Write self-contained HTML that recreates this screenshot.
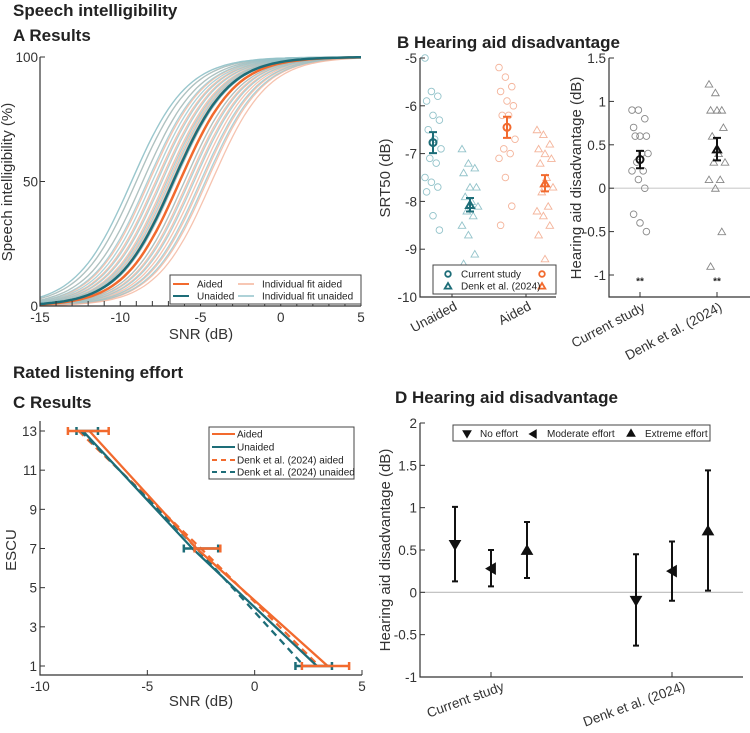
<!DOCTYPE html>
<html><head><meta charset="utf-8"><style>
body{margin:0;background:#fff}
svg{display:block;font-family:"Liberation Sans",Arial,sans-serif}
.t{font-weight:bold;font-size:17px;fill:#222}
.tk{font-size:13.5px;fill:#333}
.lb{font-size:15px;fill:#333}
.lg{font-size:10px;fill:#222}
</style></head><body>
<svg id="s" width="750" height="733" viewBox="0 0 750 733">
<text class="t" x="13" y="16">Speech intelligibility</text>
<text class="t" x="13" y="41">A Results</text>
<text class="t" x="397" y="48">B Hearing aid disadvantage</text>
<text class="t" x="13" y="378">Rated listening effort</text>
<text class="t" x="13" y="408">C Results</text>
<text class="t" x="395" y="403">D Hearing aid disadvantage</text>
</svg>
<script>
// ---- Panel A data
const aMainMid=[-6.3,-6.7]; // aided, unaided
const aSlope=0.58;
const aIndAided=[-9.0,-8.6,-8.2,-7.8,-7.5,-7.2,-7.0,-6.8,-6.6,-6.3,-6.0,-5.8,-5.5,-5.2,-4.9,-4.6,-4.3];
const aIndUnaided=[-9.3,-9.0,-8.6,-8.3,-8.0,-7.7,-7.4,-7.1,-6.9,-6.6,-6.3,-6.0,-5.7,-5.4,-5.0,-4.7];
const aXTicks=[-15,-10,-5,0,5];
const aYTicks=[0,50,100];
// ---- Panel B left
const bUnCur=[-5.0,-5.7,-5.8,-5.9,-6.2,-6.3,-6.5,-6.7,-6.9,-7.1,-7.2,-7.5,-7.6,-7.7,-7.8,-8.3,-8.6];
const bUnDenk=[-6.9,-7.2,-7.3,-7.4,-7.7,-7.7,-7.9,-8.0,-8.1,-8.2,-8.3,-8.5,-8.7,-9.1,-9.3];
const bAidCur=[-5.2,-5.4,-5.6,-5.7,-5.9,-6.0,-6.2,-6.2,-6.7,-6.9,-7.0,-7.1,-7.5,-8.1,-8.5];
const bAidDenk=[-6.5,-6.6,-6.8,-6.9,-7.0,-7.1,-7.2,-7.5,-7.7,-7.8,-8.1,-8.2,-8.3,-8.5,-8.7,-9.2];
const bMeans=[-6.77,-8.07,-6.45,-7.62];
const bErr=[0.22,0.14,0.22,0.17];
const bYTicks=[-5,-6,-7,-8,-9,-10];
// ---- Panel B right
const bdCur=[0.9,0.9,0.8,0.7,0.6,0.6,0.6,0.4,0.4,0.3,0.2,0.2,0.1,0,-0.3,-0.4,-0.5];
const bdDenk=[1.2,1.1,0.9,0.9,0.9,0.7,0.6,0.4,0.3,0.3,0.1,0.1,0,-0.5,-0.9];
const bdMeans=[0.33,0.45];
const bdErr=[0.1,0.13];
const bdYTicks=[1.5,1,0.5,0,-0.5,-1];
// ---- Panel C
const cLevels=[13,7,1];
const cAided=[-7.7,-2.7,3.4];
const cUnaided=[-8.0,-2.9,2.9];
const cDenkAided=[-8.2,-2.5,3.0];
const cDenkUnaided=[-8.1,-2.7,2.3];
const cErrAided=[[-8.7,-6.8],[-2.8,-1.6],[2.2,4.4]];
const cErrUnaided=[[-8.3,-7.3],[-3.3,-1.7],[1.9,3.6]];
const cXTicks=[-10,-5,0,5];
const cYTicks=[1,3,5,7,9,11,13];
// ---- Panel D
const dGroups=["Current study","Denk et al. (2024)"];
const dMean=[[0.56,0.28,0.5],[-0.1,0.25,0.73]];
const dLo=[[0.13,0.07,0.17],[-0.63,-0.1,0.02]];
const dHi=[[1.01,0.5,0.83],[0.45,0.6,1.44]];
const dYTicks=[2,1.5,1,0.5,0,-0.5,-1];

const S=document.getElementById('s');const NS='http://www.w3.org/2000/svg';
function mk(tag,at,txt,par){const e=document.createElementNS(NS,tag);for(const k in at)e.setAttribute(k,at[k]);if(txt!=null)e.textContent=txt;(par||S).appendChild(e);return e;}
const OR='#f26a2e',TE='#1d6d78',LOR='#f4b49b',LTE='#93c3ca';
function lin(d0,d1,r0,r1){return v=>r0+(v-d0)/(d1-d0)*(r1-r0);}

// ===== Panel A
{const x=lin(-15,5,40,361),y=lin(0,100,306,57);
const g=mk('g',{});
function curve(m,col,w,op,name){let p='';for(let v=-15;v<=5.001;v+=0.25){const q=100/(1+Math.exp(-aSlope*(v-m)));p+=(p?'L':'M')+x(v).toFixed(1)+','+y(q).toFixed(1);}
const e=mk('path',{d:p,fill:'none',stroke:col,'stroke-width':w,'stroke-opacity':op},null,g);}
aIndAided.forEach((m,i)=>{curve(m,LOR,1.3,0.8,'fit-aided-'+i);curve(aIndUnaided[i%aIndUnaided.length],LTE,1.3,0.75,'fit-unaided-'+i);});
curve(aMainMid[0],OR,2.5,1,'mean-aided-curve');curve(aMainMid[1],TE,2.5,1,'mean-unaided-curve');
mk('path',{d:'M40,57V306H361',fill:'none',stroke:'#333','stroke-width':1.2},null,g);
for(let v=-15;v<=5;v++)mk('line',{x1:x(v),x2:x(v),y1:306,y2:301,stroke:'#333'},null,g);
aXTicks.forEach(v=>{const e=mk('text',{x:x(v),y:322,'text-anchor':'middle',class:'tk'},String(v),g);});
aYTicks.forEach(v=>{mk('line',{x1:40,x2:45,y1:y(v),y2:y(v),stroke:'#333'},null,g);const e=mk('text',{x:38,y:y(v)+5,'text-anchor':'end',class:'tk'},String(v),g);});
let e=mk('text',{x:201,y:339,'text-anchor':'middle',class:'lb'},'SNR (dB)',g);
e=mk('text',{transform:'translate(12,182) rotate(-90)','text-anchor':'middle',class:'lb'},'Speech intelligibility (%)',g);
const L=mk('g',{},null,g);
mk('rect',{x:170,y:275,width:191,height:29,fill:'#fff',stroke:'#444'},null,L);
[[OR,2,'Aided',173,284],[TE,2,'Unaided',173,296],[LOR,1.5,'Individual fit aided',238,284],[LTE,1.5,'Individual fit  unaided',238,296]].forEach(a=>{mk('line',{x1:a[3],x2:a[3]+16,y1:a[4],y2:a[4],stroke:a[0],'stroke-width':a[1]},null,L);mk('text',{x:a[3]+24,y:a[4]+3.5,class:'lg'},a[2],L);});
}

function circ(g,cx,cy,col,r,w){return mk('circle',{cx:cx,cy:cy,r:r||3.3,fill:'none',stroke:col,'stroke-width':w||0.9},null,g);}
function tri(g,cx,cy,col,r,w,fill,dir){r=r||3.8;let p;
if(dir==='down')p=[[cx-r,cy-r*0.8],[cx+r,cy-r*0.8],[cx,cy+r*0.9]];else if(dir==='left')p=[[cx+r*0.8,cy-r],[cx+r*0.8,cy+r],[cx-r*0.9,cy]];else p=[[cx-r,cy+r*0.8],[cx+r,cy+r*0.8],[cx,cy-r*0.9]];
return mk('polygon',{points:p.map(q=>q.join(',')).join(' '),fill:fill||'none',stroke:col,'stroke-width':w||0.9},null,g);}
function jit(i){return ((i*37)%11-5)*1.6;}

// ===== Panel B left
{const y=lin(-5,-10,58,297);const g=mk('g',{});
const cx=[433,470,507,545];const sets=[bUnCur,bUnDenk,bAidCur,bAidDenk];const cols=[LTE,LTE,LOR,LOR];const dark=[TE,TE,OR,OR];
sets.forEach((arr,k)=>arr.forEach((v,i)=>{const e=(k%2===0)?circ(g,cx[k]+jit(i),y(v),cols[k]):tri(g,cx[k]+jit(i),y(v),cols[k]);}));
bMeans.forEach((m,k)=>{const x=cx[k];mk('path',{d:`M${x},${y(m-bErr[k])}V${y(m+bErr[k])}M${x-4},${y(m-bErr[k])}H${x+4}M${x-4},${y(m+bErr[k])}H${x+4}`,stroke:dark[k],'stroke-width':2,fill:'none'},null,g);
const e=(k%2===0)?circ(g,x,y(m),dark[k],3.5,2):tri(g,x,y(m),dark[k],4,2);});
mk('path',{d:'M420,58V297H556',fill:'none',stroke:'#333','stroke-width':1.2},null,g);
bYTicks.forEach(v=>{mk('line',{x1:420,x2:425,y1:y(v),y2:y(v),stroke:'#333'},null,g);const e=mk('text',{x:417,y:y(v)+5,'text-anchor':'end',class:'tk'},String(v),g);});
[[452,'Unaided'],[526,'Aided']].forEach(a=>{mk('line',{x1:a[0],x2:a[0],y1:297,y2:292,stroke:'#333'},null,g);const e=mk('text',{transform:`translate(${a[0]+6},${309}) rotate(-28)`,'text-anchor':'end',class:'tk'},a[1],g);});
let e=mk('text',{transform:'translate(390,178) rotate(-90)','text-anchor':'middle',class:'lb'},'SRT50 (dB)',g);
const L=mk('g',{},null,g);
mk('rect',{x:433,y:265,width:123,height:29,fill:'#fff',stroke:'#444'},null,L);
circ(L,448,274,TE,2.8,1.8);circ(L,542,274,OR,2.8,1.8);tri(L,448,286,TE,3.3,1.8);tri(L,542,286,OR,3.3,1.8);
mk('text',{x:461,y:277.5,class:'lg'},'Current study',L);mk('text',{x:461,y:289.5,class:'lg'},'Denk et al. (2024)',L);}

// ===== Panel B right
{const y=lin(1.5,-1,58,275);const g=mk('g',{});
mk('line',{x1:609,x2:750,y1:y(0),y2:y(0),stroke:'#ccc','stroke-width':1.2},null,g);
const cx=[640,717];
bdCur.forEach((v,i)=>{const e=circ(g,cx[0]+jit(i),y(v),'#888');});
bdDenk.forEach((v,i)=>{const e=tri(g,cx[1]+jit(i),y(v),'#888');});
bdMeans.forEach((m,k)=>{const x=cx[k];mk('path',{d:`M${x},${y(m-bdErr[k])}V${y(m+bdErr[k])}M${x-4},${y(m-bdErr[k])}H${x+4}M${x-4},${y(m+bdErr[k])}H${x+4}`,stroke:'#111','stroke-width':2,fill:'none'},null,g);
const e=k===0?circ(g,x,y(m),'#111',3.5,2):tri(g,x,y(m),'#111',4,2);
mk('text',{x:x,y:y(-1.05)+5,'text-anchor':'middle',class:'lg','font-weight':'bold'},'**',g);});
mk('path',{d:'M609,58V297H750',fill:'none',stroke:'#333','stroke-width':1.2},null,g);
bdYTicks.forEach(v=>{mk('line',{x1:609,x2:614,y1:y(v),y2:y(v),stroke:'#333'},null,g);const e=mk('text',{x:606,y:y(v)+5,'text-anchor':'end',class:'tk'},String(v),g);});
[[640,'Current study'],[717,'Denk et al. (2024)']].forEach(a=>{mk('line',{x1:a[0],x2:a[0],y1:297,y2:292,stroke:'#333'},null,g);const e=mk('text',{transform:`translate(${a[0]+6},${310}) rotate(-28)`,'text-anchor':'end',class:'tk'},a[1],g);});
let e=mk('text',{transform:'translate(581,178) rotate(-90)','text-anchor':'middle',class:'lb'},'Hearing aid disadvantage (dB)',g);}

// ===== Panel C
{const x=lin(-10,5,40,362),y=lin(13,1,431,666);const g=mk('g',{});
function ln(arr,col,dash,name){const e=mk('polyline',{points:arr.map((v,i)=>x(v)+','+y(cLevels[i])).join(' '),fill:'none',stroke:col,'stroke-width':2.3,'stroke-dasharray':dash||'none'},null,g);}
ln(cDenkAided,OR,'7,5','denk-aided-line');ln(cDenkUnaided,TE,'7,5','denk-unaided-line');ln(cAided,OR,null,'aided-line');ln(cUnaided,TE,null,'unaided-line');
function eb(err,col,name){err.forEach((r,i)=>{const yy=y(cLevels[i]);const e=mk('path',{d:`M${x(r[0])},${yy}H${x(r[1])}M${x(r[0])},${yy-4}V${yy+4}M${x(r[1])},${yy-4}V${yy+4}`,stroke:col,'stroke-width':2.5,fill:'none'},null,g);});}
eb(cErrUnaided,TE,'unaided-errorbar');eb(cErrAided,OR,'aided-errorbar');
mk('path',{d:'M40,421V675H362',fill:'none',stroke:'#333','stroke-width':1.2},null,g);
cXTicks.forEach(v=>{mk('line',{x1:x(v),x2:x(v),y1:675,y2:670,stroke:'#333'},null,g);const e=mk('text',{x:x(v),y:691,'text-anchor':'middle',class:'tk'},String(v),g);});
cYTicks.forEach(v=>{mk('line',{x1:40,x2:45,y1:y(v),y2:y(v),stroke:'#333'},null,g);const e=mk('text',{x:37,y:y(v)+5,'text-anchor':'end',class:'tk'},String(v),g);});
let e=mk('text',{x:201,y:706,'text-anchor':'middle',class:'lb'},'SNR (dB)',g);
e=mk('text',{transform:'translate(16,550) rotate(-90)','text-anchor':'middle',class:'lb'},'ESCU',g);
const L=mk('g',{},null,g);
mk('rect',{x:209,y:427,width:145,height:52,fill:'#fff',stroke:'#444'},null,L);
[[OR,null,'Aided',434],[TE,null,'Unaided',447],[OR,'5,4','Denk et al. (2024) aided',460],[TE,'5,4','Denk et al. (2024) unaided',472]].forEach(a=>{mk('line',{x1:212,x2:235,y1:a[3],y2:a[3],stroke:a[0],'stroke-width':2,'stroke-dasharray':a[1]||'none'},null,L);mk('text',{x:237,y:a[3]+3.5,class:'lg'},a[2],L);});}

// ===== Panel D
{const y=lin(2,-1,423,677);const g=mk('g',{});
mk('line',{x1:421,x2:743,y1:y(0),y2:y(0),stroke:'#bbb','stroke-width':1.2},null,g);
const gx=[491,672],off=[-36,0,36],dirs=['down','left','up'];
dGroups.forEach((n,gi)=>{dMean[gi].forEach((m,k)=>{const xx=gx[gi]+off[k];mk('path',{d:`M${xx},${y(dLo[gi][k])}V${y(dHi[gi][k])}M${xx-3},${y(dLo[gi][k])}H${xx+3}M${xx-3},${y(dHi[gi][k])}H${xx+3}`,stroke:'#111','stroke-width':2,fill:'none'},null,g);
const e=tri(g,xx,y(m),'#111',5.5,1,'#111',dirs[k]);});
mk('line',{x1:gx[gi],x2:gx[gi],y1:677,y2:672,stroke:'#333'},null,g);
const e=mk('text',{transform:`translate(${gx[gi]+14},${690}) rotate(-20)`,'text-anchor':'end',class:'tk'},n,g);});
mk('path',{d:'M420,423V677H743',fill:'none',stroke:'#333','stroke-width':1.2},null,g);
dYTicks.forEach(v=>{mk('line',{x1:420,x2:425,y1:y(v),y2:y(v),stroke:'#333'},null,g);const e=mk('text',{x:417,y:y(v)+5,'text-anchor':'end',class:'tk'},String(v),g);});
let e=mk('text',{transform:'translate(390,550) rotate(-90)','text-anchor':'middle',class:'lb'},'Hearing aid disadvantage (dB)',g);
const L=mk('g',{},null,g);
mk('rect',{x:453,y:425,width:257,height:16,fill:'#fff',stroke:'#444'},null,L);
tri(L,467,434,'#111',4,1,'#111','down');tri(L,533,434,'#111',4,1,'#111','left');tri(L,631,433,'#111',4,1,'#111','up');
mk('text',{x:480,y:437,class:'lg'},'No effort',L);mk('text',{x:547,y:437,class:'lg'},'Moderate effort',L);mk('text',{x:645,y:437,class:'lg'},'Extreme effort',L);}
</script>
</body></html>
